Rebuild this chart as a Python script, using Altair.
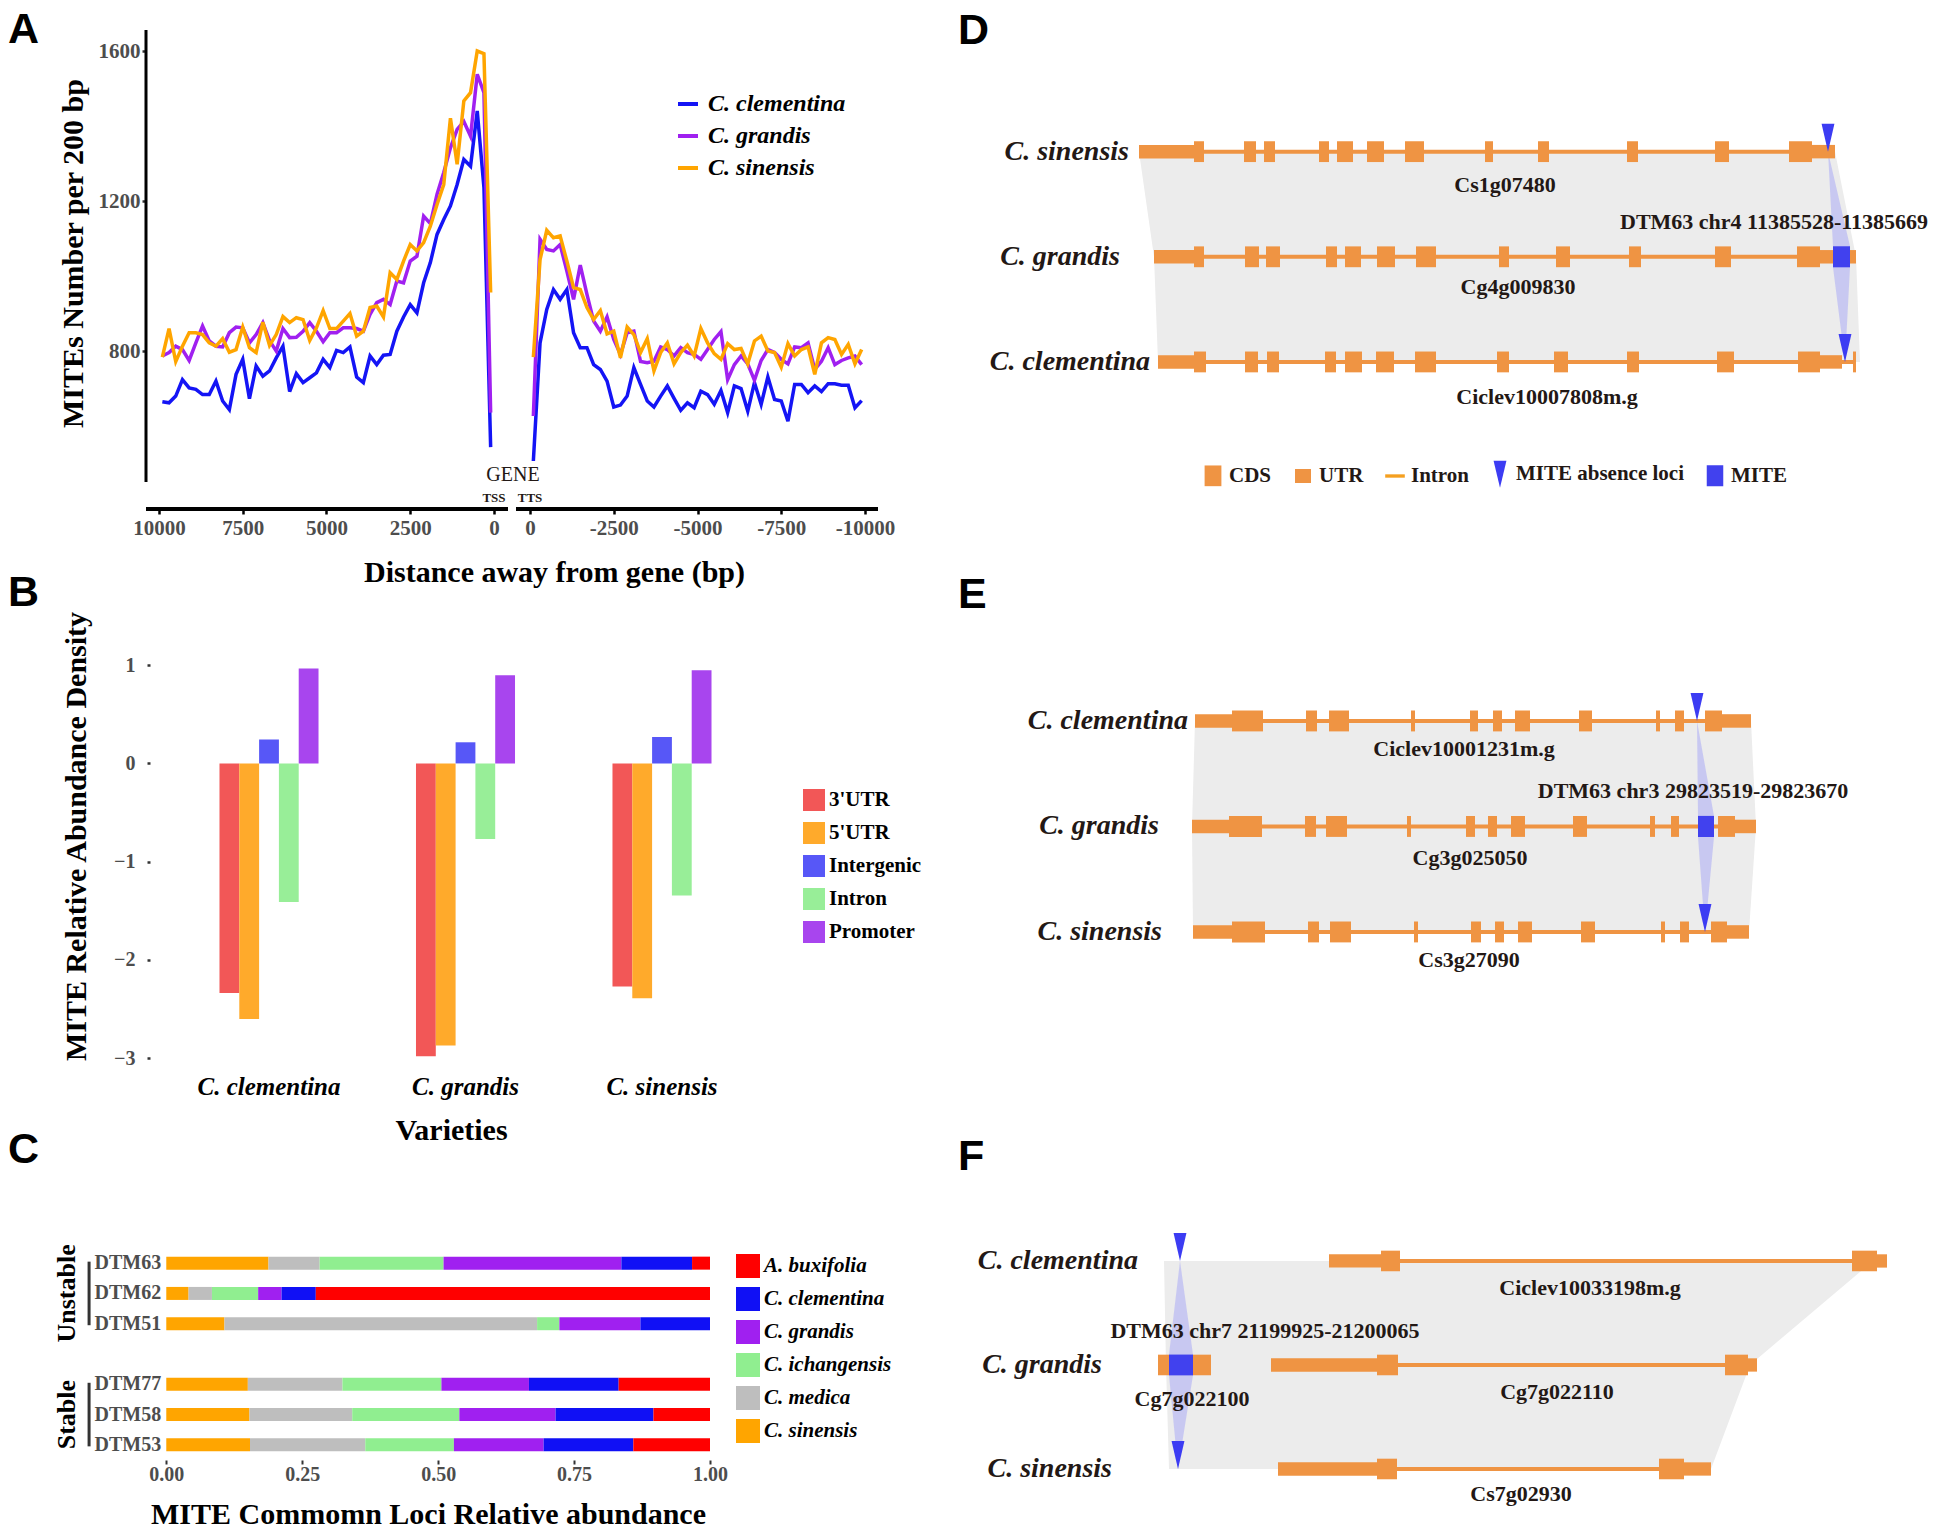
import altair as alt
import pandas as pd

SERIF = "Liberation Serif"
SANS = "Liberation Sans"
INK = "#231815"
AXGREY = "#4D4D4D"
EXON = "#EF9443"
MITEBLUE = "#4141EE"
TRIBLUE = "#3C3CF3"
WEDGE = "#C6C6F1"
SHADE = "#ECECEC"

# ====================== Panel A data ======================
A_species = ["C. clementina", "C. grandis", "C. sinensis"]
A_colors = ["#1414F5", "#A020F0", "#FFA500"]
A_upstream_bp = list(range(9900, 0, -200))
A_downstream_bp = list(range(-100, -10000, -200))
A_clementina_up = [665, 662, 680, 724, 702, 698, 684, 684, 720, 667, 644, 738, 778, 673, 760, 733, 747, 782, 813, 692, 740, 716, 729, 742, 778, 756, 802, 796, 811, 731, 716, 787, 764, 789, 791, 853, 891, 924, 902, 982, 1036, 1111, 1151, 1187, 1244, 1311, 1293, 1440, 1236, 544]
A_grandis_up = [787, 796, 813, 804, 775, 822, 867, 827, 813, 811, 849, 864, 862, 822, 844, 876, 828, 800, 860, 836, 837, 853, 876, 853, 825, 849, 849, 862, 862, 860, 853, 898, 929, 938, 924, 987, 982, 1040, 1053, 1160, 1140, 1218, 1276, 1342, 1391, 1412, 1373, 1538, 1489, 636]
A_sinensis_up = [784, 860, 772, 813, 849, 849, 844, 822, 813, 833, 797, 804, 864, 809, 796, 877, 815, 844, 892, 876, 889, 884, 828, 862, 908, 860, 860, 880, 900, 840, 853, 916, 920, 891, 1009, 991, 1040, 1084, 1067, 1089, 1133, 1191, 1244, 1421, 1298, 1467, 1489, 1600, 1593, 956]
A_clementina_down = [507, 822, 911, 964, 938, 964, 849, 809, 809, 764, 751, 720, 651, 656, 680, 756, 711, 667, 651, 680, 707, 674, 642, 662, 649, 693, 684, 658, 695, 636, 707, 700, 640, 716, 658, 731, 671, 667, 613, 711, 711, 689, 707, 692, 713, 713, 709, 709, 649, 668]
A_grandis_down = [627, 1098, 1071, 1067, 1084, 1013, 938, 1029, 951, 880, 853, 891, 831, 791, 849, 853, 772, 769, 773, 811, 804, 787, 809, 796, 791, 778, 804, 831, 852, 724, 764, 787, 766, 722, 775, 804, 796, 778, 766, 811, 809, 822, 751, 773, 809, 764, 775, 782, 787, 764]
A_sinensis_down = [784, 1044, 1122, 1102, 1107, 1040, 969, 964, 916, 884, 908, 846, 853, 782, 864, 844, 796, 833, 747, 796, 822, 766, 796, 816, 787, 860, 822, 793, 778, 820, 804, 807, 766, 827, 840, 800, 796, 757, 820, 787, 804, 811, 738, 822, 836, 831, 791, 818, 766, 804]
A_xticks_up = [10000, 7500, 5000, 2500, 0]
A_xticks_down = [0, -2500, -5000, -7500, -10000]
A_yticks = [800, 1200, 1600]

# ====================== Panel B data ======================
B_varieties = ["C. clementina", "C. grandis", "C. sinensis"]
B_regions = ["3'UTR", "5'UTR", "Intergenic", "Intron", "Promoter"]
B_colors = ["#F25757", "#FFAA2B", "#5757F7", "#98EE98", "#A845EE"]
B_clementina = [-2.335, -2.60, 0.244, -1.41, 0.967]
B_grandis = [-2.98, -2.87, 0.215, -0.77, 0.898]
B_sinensis = [-2.27, -2.39, 0.269, -1.345, 0.949]

# ====================== Panel C data ======================
C_loci = ["DTM63", "DTM62", "DTM51", "DTM77", "DTM58", "DTM53"]
C_axis_rows = ["DTM63", "DTM62", "DTM51", " ", "DTM77", "DTM58", "DTM53"]
C_legend_species = ["A. buxifolia", "C. clementina", "C. grandis", "C. ichangensis", "C. medica", "C. sinensis"]
C_colors = ["#FF0000", "#1010F5", "#A020F0", "#90EE90", "#BEBEBE", "#FFA500"]
C_stack_order = ["C. sinensis", "C. medica", "C. ichangensis", "C. grandis", "C. clementina", "A. buxifolia"]
C_DTM63 = [0.188, 0.094, 0.228, 0.327, 0.130, 0.033]
C_DTM62 = [0.041, 0.043, 0.085, 0.043, 0.063, 0.725]
C_DTM51 = [0.107, 0.575, 0.041, 0.149, 0.128, 0.000]
C_DTM77 = [0.150, 0.174, 0.182, 0.161, 0.165, 0.168]
C_DTM58 = [0.153, 0.189, 0.197, 0.177, 0.180, 0.104]
C_DTM53 = [0.154, 0.212, 0.163, 0.165, 0.165, 0.141]
C_groups = ["Unstable", "Stable"]

# ====================== Panels D-F data (diagram units) ======================
D_rows = ["C. sinensis", "C. grandis", "C. clementina"]
D_row_label_x = [171, 162, 192]
D_genes = [
    dict(name="Cs1g07480", row=0, start=181, end=877, lx=547, ly=0.32,
         exons=[(181, 236, "UTR"), (236, 246, "CDS"), (286, 298, "CDS"), (306, 317, "CDS"), (361, 371, "CDS"),
                (379, 395, "CDS"), (409, 426, "CDS"), (447, 466, "CDS"), (527, 535, "CDS"), (580, 591, "CDS"),
                (669, 680, "CDS"), (757, 771, "CDS"), (831, 854, "CDS"), (854, 877, "UTR")]),
    dict(name="Cg4g009830", row=1, start=196, end=898, lx=560, ly=1.29,
         exons=[(196, 236, "UTR"), (236, 246, "CDS"), (287, 301, "CDS"), (308, 322, "CDS"), (368, 379, "CDS"),
                (387, 403, "CDS"), (419, 437, "CDS"), (458, 478, "CDS"), (541, 551, "CDS"), (598, 612, "CDS"),
                (671, 683, "CDS"), (757, 773, "CDS"), (839, 862, "CDS"), (862, 875, "UTR"), (875, 892, "MITE"),
                (892, 898, "UTR")]),
    dict(name="Ciclev10007808m.g", row=2, start=200, end=898, lx=589, ly=2.33,
         exons=[(200, 236, "UTR"), (236, 248, "CDS"), (287, 300, "CDS"), (309, 321, "CDS"), (367, 378, "CDS"),
                (387, 404, "CDS"), (418, 436, "CDS"), (457, 478, "CDS"), (539, 551, "CDS"), (596, 610, "CDS"),
                (669, 681, "CDS"), (759, 776, "CDS"), (840, 862, "CDS"), (862, 884, "UTR"), (895, 898, "CDS")]),
]
D_triangles = [(0, 870), (2, 887)]
D_wedge = [(0, 870, 870), (0.9, 875, 892), (1.1, 875, 892), (2, 887, 887)]
D_shade = [(0, 181, 877), (1, 196, 898), (2, 200, 902)]
D_mite_label = ("DTM63 chr4 11385528-11385669", 816, 0.67)

E_rows = ["C. clementina", "C. grandis", "C. sinensis"]
E_row_label_x = [230, 201, 204]
E_genes = [
    dict(name="Ciclev10001231m.g", row=0, start=237, end=793, lx=506, ly=0.265,
         exons=[(237, 274, "UTR"), (274, 305, "CDS"), (348, 359, "CDS"), (371, 391, "CDS"), (453, 457, "CDS"),
                (512, 520, "CDS"), (535, 544, "CDS"), (557, 572, "CDS"), (621, 634, "CDS"), (698, 702, "CDS"),
                (717, 726, "CDS"), (747, 764, "CDS"), (764, 793, "UTR")]),
    dict(name="Cg3g025050", row=1, start=234, end=798, lx=512, ly=1.30,
         exons=[(234, 271, "UTR"), (271, 304, "CDS"), (347, 358, "CDS"), (368, 389, "CDS"), (449, 453, "CDS"),
                (508, 517, "CDS"), (530, 539, "CDS"), (553, 567, "CDS"), (615, 629, "CDS"), (692, 697, "CDS"),
                (713, 721, "CDS"), (740, 756, "MITE"), (760, 777, "CDS"), (777, 798, "UTR")]),
    dict(name="Cs3g27090", row=2, start=235, end=791, lx=511, ly=2.27,
         exons=[(235, 274, "UTR"), (274, 307, "CDS"), (350, 361, "CDS"), (372, 393, "CDS"), (456, 460, "CDS"),
                (513, 523, "CDS"), (537, 546, "CDS"), (560, 574, "CDS"), (623, 637, "CDS"), (703, 707, "CDS"),
                (722, 731, "CDS"), (753, 769, "CDS"), (769, 791, "UTR")]),
]
E_triangles = [(0, 739), (2, 747)]
E_wedge = [(0, 739, 739), (0.9, 740, 756), (1.1, 740, 756), (2, 747, 747)]
E_shade = [(0, 237, 793), (1, 234, 798), (2, 235, 791)]
E_mite_label = ("DTM63 chr3 29823519-29823670", 735, 0.66)

F_rows = ["C. clementina", "C. grandis", "C. sinensis"]
F_row_label_x = [180, 144, 154]
F_genes = [
    dict(name="Ciclev10033198m.g", row=0, start=371, end=929, lx=632, ly=0.26,
         exons=[(371, 423, "UTR"), (423, 442, "CDS"), (894, 919, "CDS"), (919, 929, "UTR")]),
    dict(name="Cg7g022100", row=1, start=200, end=253, lx=234, ly=1.33,
         exons=[(200, 211, "CDS"), (211, 235, "MITE"), (235, 253, "CDS")]),
    dict(name="Cg7g022110", row=1, start=313, end=799, lx=599, ly=1.26,
         exons=[(313, 419, "UTR"), (419, 440, "CDS"), (767, 790, "CDS"), (790, 799, "UTR")]),
    dict(name="Cs7g02930", row=2, start=320, end=753, lx=563, ly=2.24,
         exons=[(320, 419, "UTR"), (419, 439, "CDS"), (701, 726, "CDS"), (726, 753, "UTR")]),
]
F_triangles = [(0, 222), (2, 220)]
F_wedge = [(0, 222, 222), (0.9, 211, 235), (1.1, 211, 235), (2, 220, 220)]
F_shade = [(0, 206, 915), (1, 208, 792), (2, 211, 753)]
F_mite_label = ("DTM63 chr7 21199925-21200065", 307, 0.67)

LEG_items = ["CDS", "UTR", "Intron", "MITE absence loci", "MITE"]
LEG_colors = [EXON, EXON, "#F5A020", TRIBLUE, MITEBLUE]
LEG_shapes = ["M-0.6,-0.74H0.6V0.74H-0.6Z", "M-0.57,-0.5H0.57V0.5H-0.57Z", "M-0.7,-0.12H0.7V0.12H-0.7Z",
              "M-0.46,-0.96L0.46,-0.96L0,0.96Z", "M-0.59,-0.75H0.59V0.75H-0.59Z"]
TRI_PATH = "M-0.46,-2L0.46,-2L0,0Z"


def letter_title(txt, dx, offset):
    return alt.TitleParams(txt, anchor="start", frame="group", dx=dx, offset=offset,
                           font=SANS, fontSize=43, fontWeight="bold", color="black")


# ====================== Build panel A ======================
GAP = 11075  # position of TTS on the broken axis
recs = []
for sp, up, down in zip(A_species, [A_clementina_up, A_grandis_up, A_sinensis_up],
                        [A_clementina_down, A_grandis_down, A_sinensis_down]):
    for d, v in zip(A_upstream_bp, up):
        recs.append(dict(species=sp, side="up", u=10000 - d, v=v))
    for d, v in zip(A_downstream_bp, down):
        recs.append(dict(species=sp, side="down", u=GAP - d, v=v))
dfA = pd.DataFrame(recs)

tick_vals = [10000 - t for t in A_xticks_up] + [GAP - t for t in A_xticks_down]
xA = alt.X("u:Q", scale=alt.Scale(domain=[-388, 21463], nice=False, zero=False),
           axis=alt.Axis(values=tick_vals,
                         labelExpr="datum.value <= 10000 ? '' + (10000 - datum.value) : '' + (%d - datum.value)" % GAP,
                         domain=False, grid=False, ticks=True, tickSize=5, tickWidth=2.5, tickColor="black",
                         labelFont=SERIF, labelFontSize=21, labelFontWeight="bold", labelColor=AXGREY,
                         labelPadding=3, labelOverlap=False, labelFlush=False,
                         title="Distance away from gene (bp)", titleFont=SERIF, titleFontSize=30,
                         titleFontWeight="bold", titleColor="black", titlePadding=19, titleX=408))
yA = alt.Y("v:Q", scale=alt.Scale(domain=[379, 1656], nice=False, zero=False),
           axis=alt.Axis(values=A_yticks, format="d", domain=False, grid=False, ticks=True, tickSize=4,
                         tickWidth=2.5, tickColor="#333333", labelFont=SERIF, labelFontSize=21,
                         labelFontWeight="bold", labelColor=AXGREY, labelPadding=2, labelFlush=False,
                         title="MITEs Number per 200 bp", titleFont=SERIF, titleFontSize=30,
                         titleFontWeight="bold", titleColor="black", titlePadding=10, titleY=223))

A_lines = alt.Chart(dfA).mark_line(strokeWidth=3.5).encode(
    x=xA, y=yA, detail="side:N",
    color=alt.Color("species:N", scale=alt.Scale(domain=A_species, range=A_colors),
                    legend=alt.Legend(title=None, orient="none", legendX=530, legendY=62, symbolType="stroke",
                                      symbolStrokeWidth=4, symbolSize=400, labelFont=SERIF, labelFontSize=24,
                                      labelFontWeight="bold", labelFontStyle="italic", labelColor="black",
                                      rowPadding=8, labelOffset=8, padding=0)))
A_xline = alt.Chart(pd.DataFrame({"u": [-388, 10657], "u2": [10418, 21463], "v": [379, 379]})).mark_rule(
    strokeWidth=4, color="black").encode(x=xA, x2="u2:Q", y=yA)
A_yline = alt.Chart(pd.DataFrame({"u": [-388], "v": [451], "v2": [1656]})).mark_rule(
    strokeWidth=3, color="black").encode(x=xA, y=yA, y2="v2:Q")
A_gene = alt.Chart(pd.DataFrame({"u": [10567], "v": [469], "t": ["GENE"]})).mark_text(
    font=SERIF, fontSize=20, color=INK).encode(x=xA, y=yA, text="t:N")
A_tss = alt.Chart(pd.DataFrame({"u": [10000, GAP], "v": [408, 408], "t": ["TSS", "TTS"]})).mark_text(
    font=SERIF, fontSize=13, fontWeight="bold", color=INK).encode(x=xA, y=yA, text="t:N")

panelA = alt.layer(A_xline, A_yline, A_lines, A_gene, A_tss).properties(
    width=732, height=479, title=letter_title("A", -138, -23))

# ====================== Build panel B ======================
recs = []
for var, vals in zip(B_varieties, [B_clementina, B_grandis, B_sinensis]):
    for reg, val in zip(B_regions, vals):
        recs.append(dict(variety=var, region=reg, density=val))
dfB = pd.DataFrame(recs)

panelB = alt.Chart(dfB).mark_bar().encode(
    x=alt.X("variety:N", sort=B_varieties,
            scale=alt.Scale(domain=B_varieties, paddingInner=0.496, paddingOuter=0.374),
            axis=alt.Axis(title="Varieties", labelAngle=0, labelFont=SERIF, labelFontSize=25,
                          labelFontWeight="bold", labelFontStyle="italic", labelColor="black", labelPadding=1,
                          ticks=False, tickSize=0, domain=False, titleFont=SERIF, titleFontSize=30,
                          titleFontWeight="bold", titleColor="black", titlePadding=16, titleX=305)),
    xOffset=alt.XOffset("region:N", sort=B_regions,
                        scale=alt.Scale(domain=B_regions, paddingInner=0, paddingOuter=0)),
    y=alt.Y("density:Q", scale=alt.Scale(domain=[-3.15, 1.5], nice=False),
            axis=alt.Axis(values=[-3, -2, -1, 0, 1], title="MITE Relative Abundance Density", grid=False,
                          domain=False, ticks=True, tickSize=3, tickWidth=2.5, tickColor="#333333",
                          labelFont=SERIF, labelFontSize=20, labelFontWeight="bold", labelColor=AXGREY,
                          labelPadding=12, labelFlush=False, offset=-4, titleFont=SERIF, titleFontSize=30,
                          titleFontWeight="bold", titleColor="black", titlePadding=22, titleY=220)),
    color=alt.Color("region:N", sort=B_regions, scale=alt.Scale(domain=B_regions, range=B_colors),
                    legend=alt.Legend(title=None, orient="none", legendX=657, legendY=173, symbolType="square",
                                      symbolSize=484, symbolStrokeWidth=0, labelFont=SERIF, labelFontSize=21,
                                      labelFontWeight="bold", labelColor="black", rowPadding=11,
                                      labelOffset=4, padding=0)),
).properties(width=639, height=457, title=letter_title("B", -138, -4))

# ====================== Build panel C ======================
recs = []
for locus, vals in zip(C_loci, [C_DTM63, C_DTM62, C_DTM51, C_DTM77, C_DTM58, C_DTM53]):
    for i, (sp, val) in enumerate(zip(C_stack_order, vals)):
        recs.append(dict(row=locus, species=sp, share=val, ord=i))
dfC = pd.DataFrame(recs)

C_xscale = alt.Scale(domain=[-0.0373, 1.0], nice=False, zero=False)
C_yscale = alt.Scale(domain=C_axis_rows, paddingInner=0, paddingOuter=0)
C_xaxis = alt.Axis(values=[0, 0.25, 0.5, 0.75, 1.0], format=".2f", grid=False, domain=False, ticks=True,
                   tickSize=4, tickWidth=2, tickColor="#333333", labelFont=SERIF, labelFontSize=20,
                   labelFontWeight="bold", labelColor=AXGREY, labelPadding=0, labelFlush=False,
                   title="MITE Commomn Loci Relative abundance", titleFont=SERIF, titleFontSize=30,
                   titleFontWeight="bold", titleColor="black", titlePadding=15)
C_yaxis = alt.Axis(title=None, domain=False, ticks=False, tickSize=0, labelAlign="left", labelPadding=52,
                   labelFont=SERIF, labelFontSize=20, labelFontWeight="bold", labelColor=AXGREY)

C_bars = alt.Chart(dfC).mark_bar(size=13).encode(
    x=alt.X("share:Q", stack="zero", scale=C_xscale, axis=C_xaxis),
    y=alt.Y("row:N", scale=C_yscale, axis=C_yaxis),
    order=alt.Order("ord:Q"),
    color=alt.Color("species:N", scale=alt.Scale(domain=C_legend_species, range=C_colors),
                    legend=alt.Legend(title=None, orient="none", legendX=590, legendY=6, symbolType="square",
                                      symbolSize=576, symbolStrokeWidth=0, labelFont=SERIF, labelFontSize=21,
                                      labelFontWeight="bold", labelFontStyle="italic", labelColor="black",
                                      rowPadding=9, labelOffset=4, padding=0)),
)
dfCg = pd.DataFrame({"gx": [-0.142, -0.142], "tx": [-0.183, -0.183], "y0": ["DTM63", "DTM77"],
                     "y1": ["DTM51", "DTM53"], "ym": ["DTM62", "DTM58"], "grp": C_groups})
C_rules = alt.Chart(dfCg).mark_rule(strokeWidth=3, color="#333333", strokeCap="square").encode(
    x=alt.X("gx:Q", scale=C_xscale, axis=C_xaxis), y=alt.Y("y0:N", scale=C_yscale, axis=C_yaxis), y2="y1:N")
C_text = alt.Chart(dfCg).mark_text(angle=270, font=SERIF, fontSize=26, fontWeight="bold", color="black").encode(
    x=alt.X("tx:Q", scale=C_xscale, axis=C_xaxis), y=alt.Y("ym:N", scale=C_yscale, axis=C_yaxis), text="grp:N")

panelC = alt.layer(C_bars, C_rules, C_text).properties(width=564, height=212, title=letter_title("C", -138, 72))


# ====================== Build gene panels ======================
def gene_panel(letter, rows, row_label_x, genes, triangles, wedge, shade, mite_label, ydom, height,
               title_offset, with_legend=False):
    xs = alt.Scale(domain=[0, 970], nice=False, zero=False)
    ys = alt.Scale(domain=ydom, nice=False, zero=False, reverse=True)

    def gx(f):
        return alt.X(f + ":Q", scale=xs, axis=None)

    def gy(f):
        return alt.Y(f + ":Q", scale=ys, axis=None)

    df_shade = pd.DataFrame(shade, columns=["row", "left", "right"])
    df_wedge = pd.DataFrame(wedge, columns=["row", "left", "right"])
    df_genes = pd.DataFrame([dict(name=g["name"], row=g["row"], start=g["start"], end=g["end"],
                                  lx=g["lx"], ly=g["ly"]) for g in genes])
    df_ex = pd.DataFrame([dict(row=g["row"], start=s, end=e, kind=k) for g in genes for (s, e, k) in g["exons"]])
    df_tri = pd.DataFrame(triangles, columns=["row", "x"])
    df_rowlab = pd.DataFrame({"name": rows, "row": [0, 1, 2], "x": row_label_x})
    df_mite = pd.DataFrame({"t": [mite_label[0]], "x": [mite_label[1]], "row": [mite_label[2]]})

    layers = [
        alt.Chart(df_shade).mark_area(orient="horizontal", color=SHADE).encode(
            y=gy("row"), x=gx("left"), x2="right:Q"),
        alt.Chart(df_wedge).mark_area(orient="horizontal", color=WEDGE, opacity=0.95).encode(
            y=gy("row"), x=gx("left"), x2="right:Q"),
        alt.Chart(df_genes).mark_rule(strokeWidth=4, color=EXON).encode(
            x=gx("start"), x2="end:Q", y=gy("row")),
        alt.Chart(df_ex).transform_filter("datum.kind != 'MITE'").transform_calculate(
            y0="datum.row - (datum.kind == 'UTR' ? 0.064 : 0.099)",
            y1="datum.row + (datum.kind == 'UTR' ? 0.064 : 0.099)").mark_rect(color=EXON).encode(
            x=gx("start"), x2="end:Q", y=gy("y0"), y2="y1:Q"),
        alt.Chart(df_ex).transform_filter("datum.kind == 'MITE'").transform_calculate(
            y0="datum.row - 0.1", y1="datum.row + 0.1").mark_rect(color=MITEBLUE).encode(
            x=gx("start"), x2="end:Q", y=gy("y0"), y2="y1:Q"),
        alt.Chart(df_tri).mark_point(shape=TRI_PATH, size=784, filled=True, opacity=1, strokeWidth=0,
                                     color=TRIBLUE).encode(x=gx("x"), y=gy("row")),
        alt.Chart(df_rowlab).mark_text(align="right", baseline="middle", font=SERIF, fontSize=28,
                                       fontStyle="italic", fontWeight="bold", color=INK).encode(
            x=gx("x"), y=gy("row"), text="name:N"),
        alt.Chart(df_genes).mark_text(align="center", baseline="middle", font=SERIF, fontSize=22,
                                      fontWeight="bold", color=INK).encode(
            x=gx("lx"), y=gy("ly"), text="name:N"),
        alt.Chart(df_mite).mark_text(align="center", baseline="middle", font=SERIF, fontSize=22,
                                     fontWeight="bold", color=INK).encode(
            x=gx("x"), y=gy("row"), text="t:N"),
    ]
    if with_legend:
        df_leg = pd.DataFrame({"item": LEG_items, "x": [-500] * 5, "row": [0] * 5})
        leg = alt.Legend(title=None, orient="none", legendX=241, legendY=430, direction="horizontal", columns=5,
                         symbolSize=784, symbolStrokeWidth=0, symbolOpacity=1, labelFont=SERIF,
                         labelFontSize=21, labelFontWeight="bold", labelColor=INK, labelLimit=400,
                         labelOffset=2, columnPadding=17, padding=0)
        layers.append(alt.Chart(df_leg).mark_point(filled=True, opacity=1, strokeWidth=0, size=784, clip=True).encode(
            x=gx("x"), y=gy("row"),
            color=alt.Color("item:N", scale=alt.Scale(domain=LEG_items, range=LEG_colors), legend=leg),
            shape=alt.Shape("item:N", scale=alt.Scale(domain=LEG_items, range=LEG_shapes), legend=leg)))
    return alt.layer(*layers).properties(width=970, height=height, title=letter_title(letter, 0, title_offset))


panelD = gene_panel("D", D_rows, D_row_label_x, D_genes, D_triangles, D_wedge, D_shade, D_mite_label,
                    [-1.157, 2.752], 411, -23, with_legend=True)
panelE = gene_panel("E", E_rows, E_row_label_x, E_genes, E_triangles, E_wedge, E_shade, E_mite_label,
                    [-1.137, 3.119], 449, -16)
panelF = gene_panel("F", F_rows, F_row_label_x, F_genes, F_triangles, F_wedge, F_shade, F_mite_label,
                    [-0.913, 2.404], 345, -13)

left = alt.vconcat(panelA, panelB, panelC, spacing=-16).resolve_scale(color="independent")
right = alt.vconcat(panelD, panelE, panelF, spacing=86).resolve_scale(color="independent", shape="independent")
chart = alt.hconcat(left, right, spacing=36, padding=0).resolve_scale(
    color="independent", shape="independent").configure_view(stroke=None)
chart.save("out.html", embed_options={"renderer": "svg", "actions": False})
